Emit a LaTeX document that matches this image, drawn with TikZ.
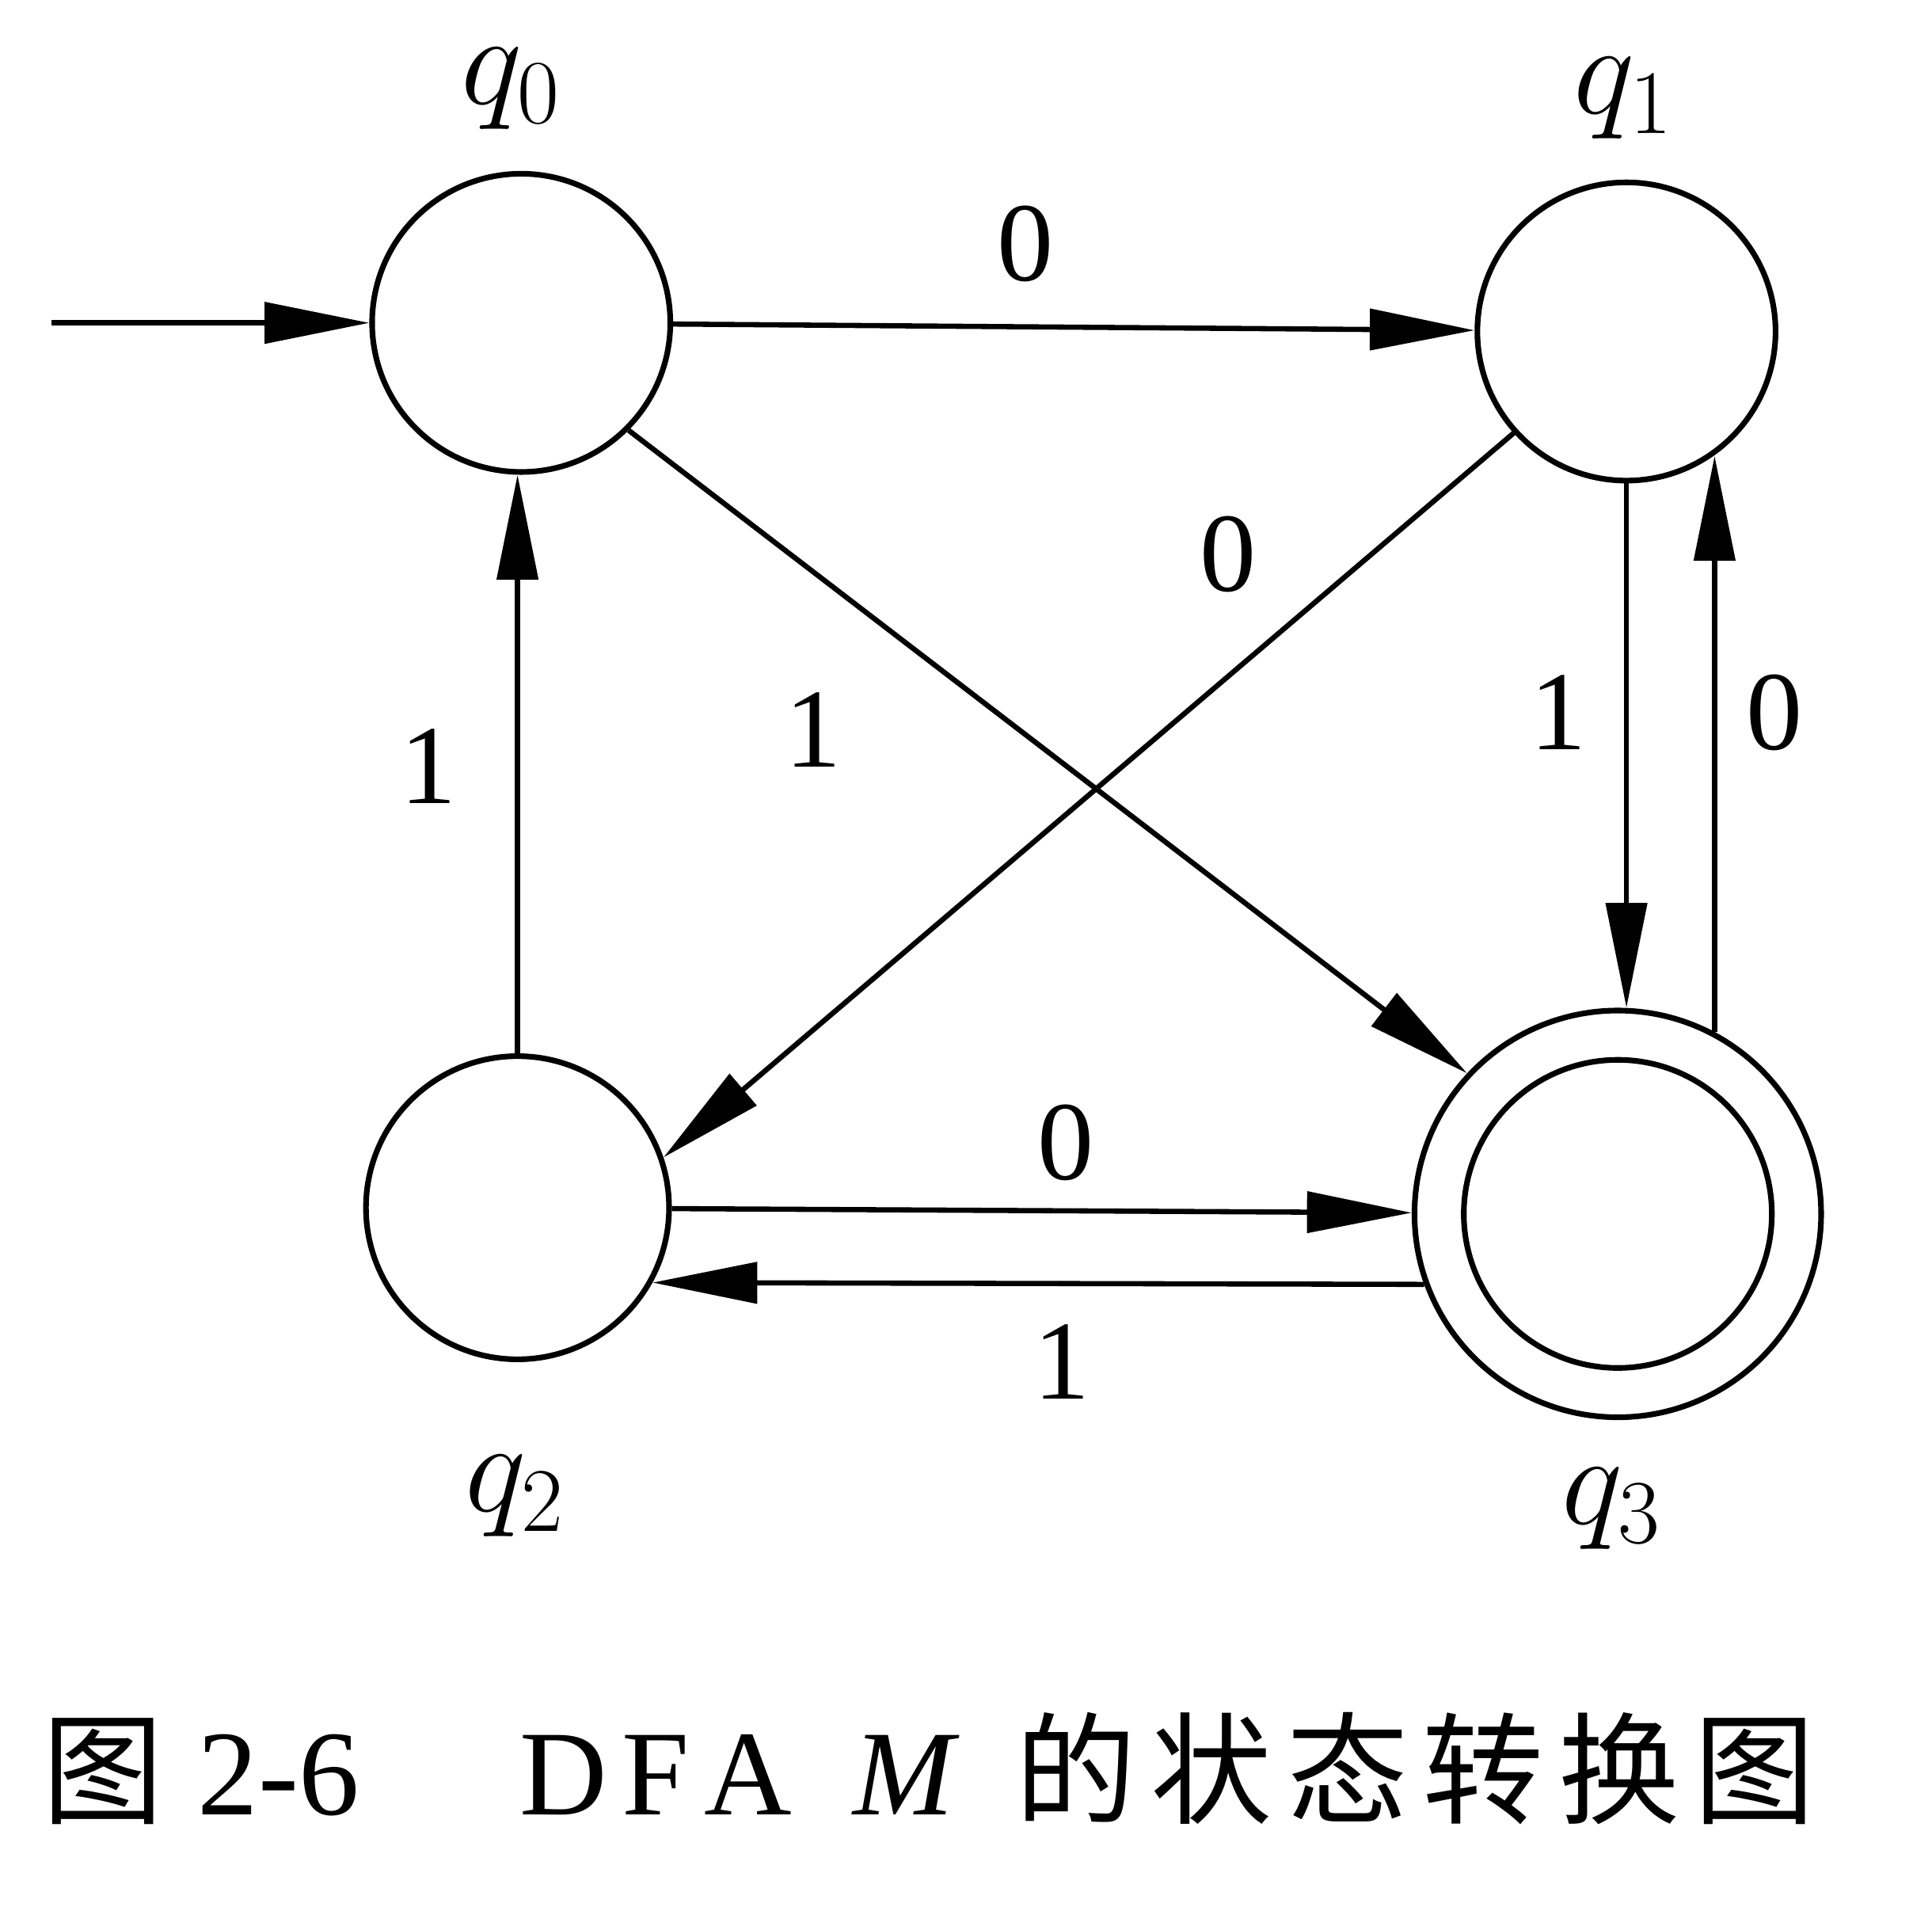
\RequirePackage{fix-cm}
\documentclass[tikz,border=0pt]{standalone}
\usepackage{fontspec}
\setmainfont{Liberation Serif}
\newfontfamily\cjk[LetterSpace=12]{Noto Sans CJK SC}
\usetikzlibrary{positioning, arrows.meta}

\begin{document}
\begin{tikzpicture}[
    x=1cm, y=1cm,
    line width=1.2pt,
    font=\fontsize{26}{30}\selectfont,
    state/.style={circle, draw, line width=1.3pt, inner sep=0pt, minimum size=2.42cm},
    trans/.style={-{Triangle[length=8.5mm, width=3.3mm]}},
    sym/.style={inner sep=0pt},
    statelabel/.style={inner sep=0pt, font=\fontsize{30}{36}\selectfont}
]

\useasboundingbox (0, 0) rectangle (15.68, 15.50);

% states, q3 is the accepting one (two rings)
\node[state] (q0) at (4.23, 12.88) {};
\node[state] (q1) at (13.20, 12.81) {};
\node[state, minimum size=2.46cm] (q2) at (4.20, 5.70) {};
\node[state, minimum size=3.30cm] (q3) at (13.13, 5.65) {};
\node[state, minimum size=2.50cm] (q3in) at (q3) {};

\node[statelabel] (lq0) at (4.15, 14.78) {$q_0$};
\node[statelabel] (lq1) at (13.18, 14.70) {$q_1$};
\node[statelabel] (lq2) at (4.18, 3.36) {$q_2$};
\node[statelabel] (lq3) at (13.08, 3.26) {$q_3$};

\coordinate (start) at (0.42, 12.88);

% transitions
\draw[trans] (start) -- (q0);
\draw[trans] (q0) -- (q1);
\draw[trans] (q1.222) -- (q2.19);
\draw[trans] (q0.-45) -- (q3.137);
\draw[trans] (q2.north) -- (q2.north |- q0.south);
\draw[trans] (q1.south) -- (q1.south |- q3.north);
\draw[trans] (q3.62) -- (q3.62 |- q1.-55);
\draw[trans] (q2) -- (q3);
\draw[trans] (q3.200) -- (q2.-29);

\node[sym] (s01) at (8.32, 13.52) {0};
\node[sym] (s12) at (9.97, 11.00) {0};
\node[sym] (s03) at (6.60, 9.58) {1};
\node[sym] (s20) at (3.48, 9.28) {1};
\node[sym] (s13) at (12.65, 9.72) {1};
\node[sym] (s31) at (14.40, 9.72) {0};
\node[sym] (s23) at (8.65, 6.23) {0};
\node[sym] (s32) at (8.62, 4.45) {1};

\node[anchor=west, inner sep=0pt, font=\fontsize{28}{32}\selectfont] (caption) at (0.32, 1.15)
    {{\cjk 图}\hspace{0.28cm}2-6\hspace{1.3cm}D\hspace{0.12cm}F\hspace{0.12cm}A\hspace{0.5cm}\textit{M}\hspace{0.45cm}{\cjk 的状态转换图}};

\end{tikzpicture}
\end{document}
